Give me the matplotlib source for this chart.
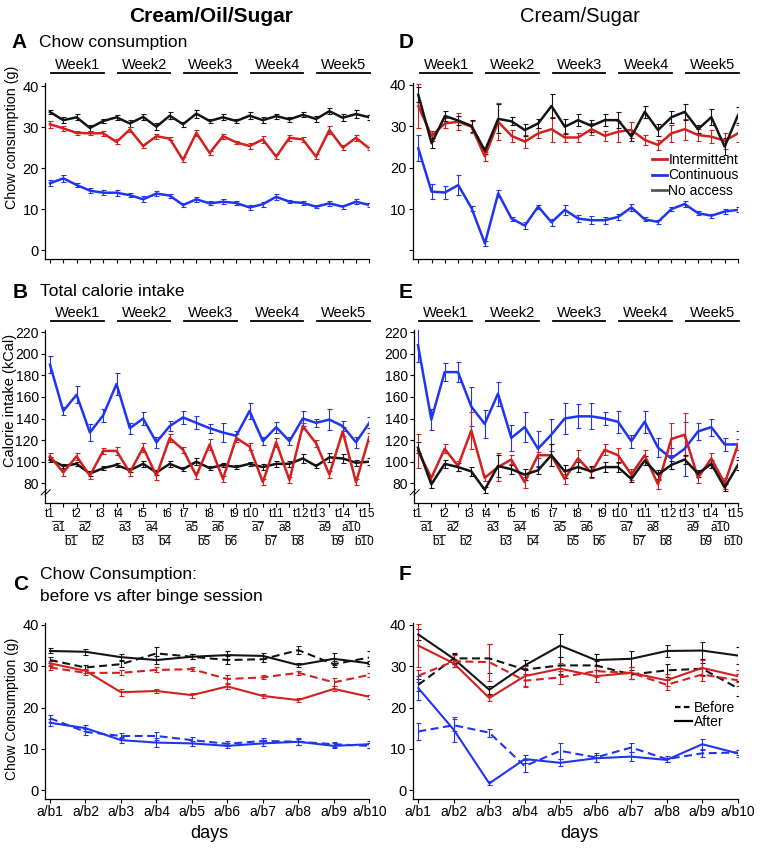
import matplotlib.pyplot as plt
from matplotlib.lines import Line2D
from matplotlib.transforms import offset_copy

plt.rcParams['font.family'] = ['Liberation Sans', 'DejaVu Sans']

W, H = 762, 850
RED = '#d41f1f'
BLUE = '#2035f2'
BLACK = '#141414'

# ---------------- data ----------------
days25 = list(range(25))
week_names = ['Week1', 'Week2', 'Week3', 'Week4', 'Week5']

# A: chow consumption, cream/oil/sugar
A_int = [30.7, 29.7, 28.6, 28.5, 28.5, 26.4, 29.4, 25.4, 27.8, 27.2, 22.0, 28.6, 23.7,
         27.8, 26.3, 25.4, 27.0, 22.8, 27.4, 27.0, 22.8, 29.3, 25.0, 27.4, 24.8]
A_int_err = [0.9, 0.6, 0.5, 0.5, 0.6, 0.6, 0.6, 0.6, 0.6, 0.4, 0.6, 0.8, 0.5,
             0.6, 0.4, 0.7, 0.8, 0.6, 0.7, 0.6, 0.6, 0.9, 0.6, 0.8, 0.4]
A_con = [16.3, 17.5, 15.9, 14.5, 14.0, 14.0, 13.4, 12.4, 13.8, 13.3, 11.0, 12.4, 11.4,
         11.8, 11.5, 10.4, 11.2, 13.0, 11.8, 11.5, 10.6, 11.4, 10.6, 11.8, 11.0]
A_con_err = [0.7, 0.8, 0.5, 0.6, 0.6, 0.7, 0.5, 0.7, 0.7, 0.5, 0.5, 0.6, 0.5,
             0.6, 0.4, 0.6, 0.6, 0.8, 0.4, 0.5, 0.4, 0.7, 0.5, 0.6, 0.4]
A_no = [33.7, 31.7, 32.4, 29.8, 31.5, 32.4, 30.9, 32.5, 30.1, 32.8, 30.7, 33.3, 31.5,
        32.4, 31.5, 32.8, 31.7, 32.7, 31.9, 33.0, 32.0, 33.9, 32.3, 33.2, 32.4]
A_no_err = [0.6, 0.7, 0.7, 0.7, 0.6, 0.6, 0.8, 0.8, 0.9, 0.9, 0.6, 1.0, 0.5,
            0.7, 0.5, 0.8, 0.7, 0.6, 0.6, 0.6, 0.8, 0.8, 0.8, 0.9, 0.6]

# D: chow consumption, cream/sugar
D_int = [34.9, 27.7, 30.7, 31.1, 29.9, 22.7, 31.1, 27.7, 26.3, 28.3, 29.3, 27.3, 27.3,
         29.3, 27.7, 28.7, 29.1, 26.7, 25.5, 28.3, 29.3, 27.9, 27.5, 26.5, 28.3]
D_int_err = [5.4, 1.2, 1.2, 2.0, 1.5, 1.0, 4.5, 1.5, 1.5, 1.2, 3.0, 1.2, 1.2,
             1.5, 1.2, 2.5, 2.0, 1.2, 1.2, 2.0, 2.5, 1.5, 1.5, 2.0, 2.0]
D_con = [24.7, 14.2, 14.0, 15.8, 10.2, 1.7, 13.8, 7.7, 6.0, 10.6, 6.8, 9.8, 7.7,
         7.3, 7.3, 8.1, 10.4, 7.5, 6.9, 10.0, 11.2, 9.0, 8.4, 9.4, 9.8]
D_con_err = [3.2, 1.8, 1.5, 2.5, 0.6, 0.6, 0.8, 0.5, 0.8, 0.5, 0.8, 1.2, 0.8,
             1.0, 0.8, 0.8, 0.8, 0.5, 0.5, 0.5, 0.8, 0.5, 0.5, 0.5, 0.6]
D_no = [37.6, 25.9, 32.5, 31.4, 30.1, 24.1, 31.8, 31.2, 29.1, 30.7, 34.9, 29.9, 31.5,
        30.1, 31.5, 31.5, 27.5, 33.5, 29.1, 32.2, 33.5, 29.3, 32.2, 25.1, 32.7]
D_no_err = [1.8, 1.2, 1.2, 1.2, 1.5, 0.8, 3.5, 1.0, 1.5, 1.0, 3.0, 1.8, 1.5,
            1.5, 1.5, 2.0, 1.0, 1.5, 1.5, 1.5, 2.0, 1.0, 2.0, 2.0, 2.0]

# B: total calorie intake, cream/oil/sugar
B_int = [105, 90, 105, 87, 110, 110, 90, 113, 87, 122, 111, 87, 116,
         84, 122, 114, 81, 118, 83, 133, 117, 88, 128, 81, 123]
B_int_err = [3, 3, 3, 3, 3, 4, 3, 4, 4, 4, 3, 3, 5, 3, 4, 3, 3, 4, 3, 3, 3, 3, 4, 3, 4]
B_con = [190, 147, 162, 127, 143, 172, 131, 140, 118, 133, 141, 136, 131,
         127, 124, 147, 119, 132, 119, 140, 136, 139, 133, 118, 136]
B_con_err = [8, 4, 8, 8, 6, 10, 5, 6, 5, 5, 6, 6, 4, 9, 4, 7, 4, 5, 4, 7, 4, 10, 5, 5, 5]
B_no = [102, 96, 98, 89, 94, 97, 92, 98, 90, 98, 93, 100, 94,
        97, 95, 98, 95, 98, 98, 103, 96, 104, 103, 99, 100]
B_no_err = [2, 2, 2, 2, 2, 2, 2, 3, 2, 3, 2, 3, 2, 2, 2, 2, 3, 3, 3, 4, 2, 4, 4, 3, 3]

# E: total calorie intake, cream/sugar
E_int = [110, 85, 112, 96, 129, 85, 95, 102, 81, 106, 106, 84, 103,
         90, 111, 106, 88, 106, 79, 121, 125, 85, 103, 80, 116]
E_int_err = [16, 3, 4, 5, 17, 3, 13, 4, 5, 3, 10, 5, 8, 5, 5, 7, 5, 5, 4, 15, 20, 5, 5, 5, 5]
E_con = [208, 139, 183, 183, 151, 135, 163, 122, 132, 112, 125, 140, 142,
         142, 140, 137, 119, 137, 113, 103, 112, 128, 132, 116, 116]
E_con_err = [16, 10, 8, 9, 18, 13, 11, 12, 14, 16, 15, 14, 11, 12, 6, 10, 6, 10, 9, 10, 25, 8, 8, 6, 12]
E_no = [113, 79, 98, 95, 91, 74, 96, 93, 88, 92, 106, 91, 95,
        91, 95, 95, 84, 101, 88, 97, 102, 89, 98, 76, 97]
E_no_err = [5, 3, 4, 4, 4, 3, 10, 4, 5, 3, 10, 6, 5, 5, 5, 5, 3, 4, 4, 4, 4, 3, 4, 3, 5]

# x labels of the calorie panels
t_labels = ['t%d' % i for i in range(1, 16)]
t_pos = [0, 2, 4, 5, 7, 9, 10, 12, 14, 15, 17, 19, 20, 22, 24]
a_labels = ['a%d' % i for i in range(1, 11)]
b_labels = ['b%d' % i for i in range(1, 11)]
pair_pos = [0, 2, 5, 7, 10, 12, 15, 17, 20, 22]

# C / F: before vs after binge session
days10 = list(range(10))
ab_labels = ['a/b%d' % i for i in range(1, 11)]

C_no_after = [33.7, 33.5, 32.2, 31.5, 32.3, 32.7, 32.5, 30.3, 31.8, 30.7]
C_no_after_err = [0.6, 0.7, 0.8, 1.0, 0.6, 1.0, 0.7, 0.6, 1.5, 0.6]
C_no_before = [31.5, 29.7, 30.5, 33.1, 32.3, 31.5, 31.7, 33.9, 30.5, 32.1]
C_no_before_err = [0.8, 0.6, 0.8, 1.5, 0.6, 1.0, 0.7, 1.0, 0.8, 1.5]
C_int_after = [30.7, 28.9, 23.7, 24.0, 23.0, 25.1, 22.8, 21.8, 24.5, 22.6]
C_int_after_err = [0.6, 0.5, 0.8, 0.5, 0.6, 0.6, 0.5, 0.5, 0.6, 0.5]
C_int_before = [29.7, 28.4, 28.4, 29.1, 29.3, 26.9, 27.3, 28.4, 26.1, 27.9]
C_int_before_err = [0.5, 0.6, 0.6, 0.6, 0.5, 0.9, 0.5, 0.5, 1.0, 0.5]
C_con_after = [16.3, 15.0, 12.1, 11.5, 11.3, 10.7, 11.3, 11.7, 10.7, 11.1]
C_con_after_err = [0.8, 0.8, 0.8, 1.0, 0.7, 0.6, 0.7, 0.8, 0.6, 0.8]
C_con_before = [17.4, 14.1, 13.1, 13.1, 12.1, 11.2, 11.9, 11.7, 11.1, 10.7]
C_con_before_err = [0.8, 0.8, 0.6, 0.9, 0.8, 0.6, 0.6, 0.7, 0.6, 0.6]

F_no_after = [37.7, 31.8, 24.3, 30.2, 35.0, 31.5, 31.8, 33.7, 33.8, 32.6]
F_no_after_err = [1.3, 1.2, 1.0, 1.2, 2.8, 1.5, 2.0, 1.5, 2.0, 2.0]
F_no_before = [25.5, 31.9, 31.9, 29.2, 30.2, 30.2, 28.0, 29.0, 29.4, 24.7]
F_no_before_err = [1.5, 1.2, 3.5, 1.0, 2.0, 1.0, 1.0, 1.5, 1.5, 1.8]
F_int_after = [35.0, 30.7, 22.3, 27.6, 29.4, 27.6, 28.4, 26.6, 29.6, 27.6]
F_int_after_err = [5.3, 1.0, 0.8, 2.5, 1.5, 1.5, 1.5, 1.5, 2.0, 1.5]
F_int_before = [27.7, 31.2, 31.0, 26.5, 27.3, 28.8, 28.4, 25.5, 28.0, 26.6]
F_int_before_err = [1.5, 1.5, 4.5, 1.5, 1.5, 1.5, 1.5, 1.2, 1.5, 1.5]
F_con_after = [24.7, 14.6, 1.6, 7.5, 6.6, 7.7, 8.1, 7.3, 11.1, 8.9]
F_con_after_err = [3.0, 3.0, 0.5, 1.0, 0.8, 0.8, 1.0, 0.5, 1.2, 0.8]
F_con_before = [14.2, 15.7, 13.9, 5.8, 9.5, 7.9, 10.3, 7.5, 8.9, 9.1]
F_con_before_err = [2.0, 1.5, 1.0, 1.5, 2.0, 1.0, 1.0, 0.8, 0.8, 0.5]

# ---------------- figure ----------------
fig = plt.figure(figsize=(W / 100, H / 100), dpi=100)


def px_axes(l, t, r, b, lsize=10.5):
    ax = fig.add_axes([l / W, 1 - b / H, (r - l) / W, (b - t) / H])
    for s in ['top', 'right']:
        ax.spines[s].set_visible(False)
    for s in ['left', 'bottom']:
        ax.spines[s].set_linewidth(0.9)
    ax.tick_params(direction='out', length=3, width=0.8, pad=1.5, labelsize=lsize)
    return ax


def ftext(x, y, s, **kw):
    fig.text(x / W, 1 - y / H, s, **kw)


def series(ax, x, y, e, color, lw=1.8, ls='-'):
    ax.errorbar(x, y, yerr=e, color=color, lw=lw, ls=ls, elinewidth=0.8,
                capsize=1.8, capthick=0.8)


def week_bars(ax, dy_line, dy_text):
    tr = offset_copy(ax.get_xaxis_transform(), fig=fig, y=dy_line, units='dots')
    for w, name in enumerate(week_names):
        ax.plot([5 * w + 0.1, 5 * w + 4.05], [1, 1], transform=tr, color='k',
                lw=1.3, clip_on=False)
        ax.annotate(name, xy=(5 * w + 2.1, 1), xycoords=ax.get_xaxis_transform(),
                    xytext=(0, dy_text), textcoords='offset pixels',
                    ha='center', va='center', fontsize=10.5)


def time_labels(ax):
    tr = ax.get_xaxis_transform()
    for p, lab in zip(t_pos, t_labels):
        # nudge labels that sit at week borders apart a little
        dx = -2 if p % 5 == 4 else (2 if p % 5 == 0 and p > 0 else 0)
        ax.annotate(lab, xy=(p, 0), xycoords=tr, xytext=(dx, -11),
                    textcoords='offset pixels', ha='center', va='center', fontsize=8.5)
    tr_a = offset_copy(tr, fig=fig, y=-18.5, units='dots')
    tr_b = offset_copy(tr, fig=fig, y=-32, units='dots')
    for p, la, lb in zip(pair_pos, a_labels, b_labels):
        ax.annotate(la, xy=(p + 0.65, 0), xycoords=tr, xytext=(0, -25.5),
                    textcoords='offset pixels', ha='center', va='center', fontsize=8.5)
        ax.annotate(lb, xy=(p + 1.6, 0), xycoords=tr, xytext=(0, -39),
                    textcoords='offset pixels', ha='center', va='center', fontsize=8.5)
        ax.plot([p + 0.15, p + 1.0], [0, 0], transform=tr_a, color='#333333',
                lw=0.8, clip_on=False)
        ax.plot([p + 1.15, p + 2.0], [0, 0], transform=tr_b, color='#333333',
                lw=0.8, clip_on=False)


def axis_break(ax):
    for dx in (0, 0.012):
        ax.plot([-0.012 + dx, 0.004 + dx], [0.045, 0.075], transform=ax.transAxes,
                color='k', lw=0.7, clip_on=False)


# A
axA = px_axes(45, 83.3, 369.3, 258.7)
series(axA, days25, A_no, A_no_err, BLACK)
series(axA, days25, A_int, A_int_err, RED)
series(axA, days25, A_con, A_con_err, BLUE)
axA.set_xticks(days25)
axA.set_xticklabels([])
axA.set_yticks([0, 10, 20, 30, 40])
axA.set_xlim(-0.375, 24)
axA.set_ylim(-2.1, 40.7)
week_bars(axA, 10, 18)

# D
axD = px_axes(412.7, 83.3, 738, 258.7)
series(axD, days25, D_con, D_con_err, BLUE)
series(axD, days25, D_int, D_int_err, RED)
series(axD, days25, D_no, D_no_err, BLACK)
axD.set_xticks(days25)
axD.set_xticklabels([])
axD.set_yticks([0, 10, 20, 30, 40])
axD.set_yticklabels(['', '10', '20', '30', '40'])
axD.set_xlim(-0.42, 24)
axD.set_ylim(-2.0, 40.4)
week_bars(axD, 10, 18)
handles = [Line2D([], [], color=RED, lw=2), Line2D([], [], color=BLUE, lw=2),
           Line2D([], [], color='#555555', lw=2)]
axD.legend(handles, ['Intermittent', 'Continuous', 'No access'], loc='upper left',
           bbox_to_anchor=(652 / W, 1 - 153 / H), bbox_transform=fig.transFigure,
           frameon=False, fontsize=10, handlelength=1.05, handletextpad=0.12,
           labelspacing=0.1, borderpad=0, borderaxespad=0)

# B
axB = px_axes(45, 330, 369.3, 502.7, 10)
series(axB, days25, B_no, B_no_err, BLACK)
series(axB, days25, B_int, B_int_err, RED)
series(axB, days25, B_con, B_con_err, BLUE)
axB.set_xticks(days25)
axB.set_xticklabels([])
axB.set_yticks(range(80, 221, 20))
axB.set_xlim(-0.375, 24)
axB.set_ylim(62, 222)
week_bars(axB, 9.3, 17)
time_labels(axB)
axis_break(axB)

# E
axE = px_axes(414, 330, 738, 502.7, 10)
series(axE, days25, E_con, E_con_err, BLUE)
series(axE, days25, E_int, E_int_err, RED)
series(axE, days25, E_no, E_no_err, BLACK)
axE.set_xticks(days25)
axE.set_xticklabels([])
axE.set_yticks(range(80, 221, 20))
axE.set_xlim(-0.3, 24)
axE.set_ylim(62, 222)
week_bars(axE, 9.3, 17)
time_labels(axE)
axis_break(axE)

# C
dash = (0, (3.8, 2.2))
axC = px_axes(45, 622.7, 369.3, 798.7)
series(axC, days10, C_no_before, C_no_before_err, BLACK, 1.5, dash)
series(axC, days10, C_no_after, C_no_after_err, BLACK, 1.5)
series(axC, days10, C_int_before, C_int_before_err, RED, 1.5, dash)
series(axC, days10, C_int_after, C_int_after_err, RED, 1.5)
series(axC, days10, C_con_before, C_con_before_err, BLUE, 1.5, dash)
series(axC, days10, C_con_after, C_con_after_err, BLUE, 1.5)
axC.set_xticks(days10)
axC.set_xticklabels(ab_labels, fontsize=10)
axC.set_yticks([0, 10, 20, 30, 40])
axC.set_xlim(-0.14, 9)
axC.set_ylim(-2.1, 40.55)

# F
axF = px_axes(412.7, 622.7, 737.7, 798.7)
series(axF, days10, F_no_before, F_no_before_err, BLACK, 1.5, dash)
series(axF, days10, F_no_after, F_no_after_err, BLACK, 1.5)
series(axF, days10, F_int_before, F_int_before_err, RED, 1.5, dash)
series(axF, days10, F_int_after, F_int_after_err, RED, 1.5)
series(axF, days10, F_con_before, F_con_before_err, BLUE, 1.5, dash)
series(axF, days10, F_con_after, F_con_after_err, BLUE, 1.5)
axF.set_xticks(days10)
axF.set_xticklabels(ab_labels, fontsize=10)
axF.set_yticks([0, 10, 20, 30, 40])
axF.set_xlim(-0.158, 9)
axF.set_ylim(-2.1, 40.55)
handlesF = [Line2D([], [], color='k', lw=1.6, ls=(0, (2.5, 1.5))),
            Line2D([], [], color='k', lw=1.6)]
axF.legend(handlesF, ['Before', 'After'], loc='upper left',
           bbox_to_anchor=(675 / W, 1 - 701 / H), bbox_transform=fig.transFigure,
           frameon=False, fontsize=10, handlelength=1.25, handletextpad=0.1,
           labelspacing=0.0, borderpad=0, borderaxespad=0)

# texts
ftext(211, 17, 'Cream/Oil/Sugar', fontsize=15, fontweight='bold', ha='center', va='center')
ftext(580, 17, 'Cream/Sugar', fontsize=14.5, ha='center', va='center')

ftext(11, 43, 'A', fontsize=15, fontweight='bold', va='center')
ftext(39, 43, 'Chow consumption', fontsize=12.5, va='center')
ftext(13, 292, 'B', fontsize=15, fontweight='bold', va='center')
ftext(40, 292, 'Total calorie intake', fontsize=12.5, va='center')
ftext(13, 584, 'C', fontsize=15, fontweight='bold', va='center')
ftext(40, 575, 'Chow Consumption:', fontsize=12.5, va='center')
ftext(40, 597, 'before vs after binge session', fontsize=12.5, va='center')
ftext(399, 43, 'D', fontsize=15, fontweight='bold', va='center')
ftext(399, 292, 'E', fontsize=15, fontweight='bold', va='center')
ftext(399, 575, 'F', fontsize=15, fontweight='bold', va='center')

ftext(12, 137, 'Chow consumption (g)', fontsize=10.3, rotation=90, ha='center', va='center')
ftext(10, 400, 'Calorie intake (kCal)', fontsize=10.5, rotation=90, ha='center', va='center')
ftext(12, 709, 'Chow Consumption (g)', fontsize=10, rotation=90, ha='center', va='center')
ftext(209, 833, 'days', fontsize=13, ha='center', va='center')
ftext(579, 833, 'days', fontsize=13, ha='center', va='center')

fig.savefig('out.png', dpi=100)
